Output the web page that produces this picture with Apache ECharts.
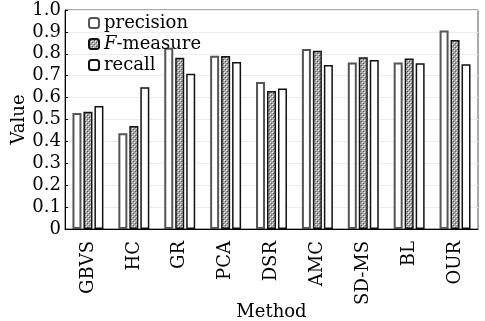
<!DOCTYPE html>
<html>
<head>
<meta charset="utf-8">
<script src="https://cdn.jsdelivr.net/npm/echarts@6/dist/echarts.min.js"></script>
<style>
  html, body { margin: 0; padding: 0; background: #fff; }
  #chart { width: 485px; height: 321px; }
</style>
</head>
<body>
<div id="chart"></div>
<script>
// data
var methods = ['GBVS', 'HC', 'GR', 'PCA', 'DSR', 'AMC', 'SD-MS', 'BL', 'OUR'];
var precision = [0.530, 0.437, 0.828, 0.791, 0.671, 0.822, 0.760, 0.760, 0.906];
var fmeasure  = [0.535, 0.470, 0.782, 0.790, 0.630, 0.814, 0.784, 0.778, 0.863];
var recall    = [0.562, 0.647, 0.709, 0.763, 0.641, 0.749, 0.772, 0.757, 0.752];
var yTicks = [0, 0.1, 0.2, 0.3, 0.4, 0.5, 0.6, 0.7, 0.8, 0.9, 1.0];

var chart = echarts.init(document.getElementById('chart'));
var serif = '"DejaVu Serif", "Liberation Serif", serif';

// crosshatch pattern for F-measure
function makePattern() {
  var c = document.createElement('canvas');
  c.width = 4; c.height = 4;
  var ctx = c.getContext('2d');
  ctx.fillStyle = '#a8a8a8';
  ctx.fillRect(0, 0, 4, 4);
  ctx.fillStyle = '#ffffff';
  ctx.fillRect(0, 0, 1, 1);
  ctx.fillRect(2, 2, 1, 1);
  ctx.fillStyle = '#555';
  ctx.fillRect(1, 1, 1, 1);
  ctx.fillRect(3, 3, 1, 1);
  return c;
}
var hatch = { image: makePattern(), repeat: 'repeat' };

var option = {
  animation: false,
  textStyle: { fontFamily: serif, color: '#000' },
  grid: {
    left: 65, right: 7, top: 10, bottom: 92,
    outerBoundsMode: 'none',
    containLabel: false,
    show: true, borderColor: '#555', borderWidth: 1
  },
  legend: {
    left: 83, top: 9,
    orient: 'vertical',
    itemWidth: 10, itemHeight: 10,
    itemGap: 3,
    textStyle: {
      fontFamily: serif, fontSize: 18, color: '#000',
      rich: { i: { fontFamily: serif, fontSize: 18, fontStyle: 'italic', color: '#000' } }
    },
    formatter: function (name) {
      return name === 'F-measure' ? '{i|F}-measure' : name;
    },
    data: ['precision', 'F-measure', 'recall']
  },
  xAxis: {
    type: 'category',
    data: methods,
    name: 'Method',
    nameLocation: 'middle',
    nameGap: 74,
    nameMoveOverlap: false,
    nameTextStyle: { fontFamily: serif, fontSize: 18, color: '#000' },
    axisLine: { lineStyle: { color: '#000' } },
    axisTick: { show: false },
    axisLabel: { rotate: 90, fontFamily: serif, fontSize: 18, color: '#000', margin: 12 }
  },
  yAxis: {
    type: 'value',
    min: 0, max: 1, interval: 0.1,
    name: 'Value',
    nameLocation: 'middle',
    nameGap: 37,
    nameMoveOverlap: false,
    nameTextStyle: { fontFamily: serif, fontSize: 18, color: '#000' },
    axisLine: { show: true, lineStyle: { color: '#000' } },
    axisTick: { show: true, inside: true, length: 3, lineStyle: { color: '#000' } },
    splitLine: { show: true, lineStyle: { color: '#ececec' } },
    axisLabel: {
      fontFamily: serif, fontSize: 18, color: '#000', margin: 4,
      formatter: function (v) {
        var hit = yTicks.filter(function (t) { return Math.abs(t - v) < 1e-6; })[0];
        return hit === 0 ? '0' : hit.toFixed(1);
      }
    }
  },
  series: [
    {
      name: 'precision', type: 'bar', data: precision,
      barWidth: 9, barGap: '22%',
      itemStyle: { color: '#fff', borderColor: '#555', borderWidth: 2 }
    },
    {
      name: 'F-measure', type: 'bar', data: fmeasure,
      barWidth: 9,
      itemStyle: { color: hatch, borderColor: '#111', borderWidth: 1.5 }
    },
    {
      name: 'recall', type: 'bar', data: recall,
      barWidth: 9,
      itemStyle: { color: '#fff', borderColor: '#111', borderWidth: 1.5 }
    }
  ]
};
chart.setOption(option);
</script>
</body>
</html>
